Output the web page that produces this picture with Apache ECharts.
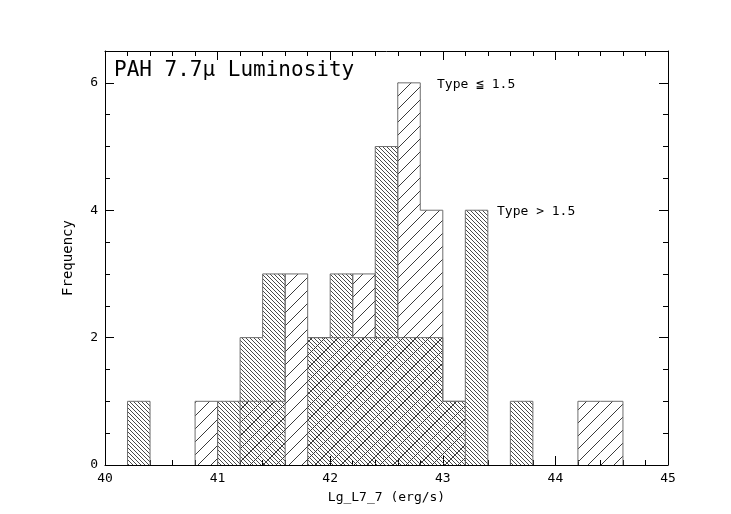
<!DOCTYPE html>
<html>
<head>
<meta charset="utf-8">
<script src="https://cdn.jsdelivr.net/npm/echarts@6/dist/echarts.min.js"></script>
<style>html,body{margin:0;padding:0;background:#fff;}#c{width:731px;height:514px;}</style>
</head>
<body>
<div id="c"></div>
<script>
// ---- data ----
const binLeft = [40.2,40.4,40.6,40.8,41.0,41.2,41.4,41.6,41.8,42.0,42.2,42.4,42.6,42.8,43.0,43.2,43.4,43.6,43.8,44.0,44.2,44.4];
const binWidth = 0.2;
const typeLow  = [0,0,0,1,0,1,1,3,2,2,3,2,6,4,1,0,0,0,0,0,1,1]; // Type <= 1.5
const typeHigh = [1,0,0,0,1,2,3,0,2,3,2,5,2,2,1,4,0,1,0,0,0,0]; // Type > 1.5
const xTicks = [40,41,42,43,44,45];
const yTicks = [0,2,4,6];
const titleText = 'PAH 7.7\u03BC Luminosity';
const labelLow = 'Type \u2266 1.5';
const labelHigh = 'Type > 1.5';

const FONT = '"DejaVu Sans Mono", monospace';

function hatch(tile, spacing, dir, color, lw) {
  const c = document.createElement('canvas');
  c.width = c.height = tile;
  const g = c.getContext('2d');
  g.strokeStyle = color; g.lineWidth = lw;
  g.beginPath();
  for (let k = -tile; k <= 2 * tile; k += spacing) {
    if (dir === 'slash') { g.moveTo(k, tile); g.lineTo(k + tile, 0); }
    else { g.moveTo(k, 0); g.lineTo(k + tile, tile); }
  }
  g.stroke();
  return c;
}
const patLow = hatch(13, 13, 'slash', '#3a3a3a', 1);
const patHigh = hatch(8, 4, 'back', '#4a4a4a', 1);

function buildData(vals) {
  return binLeft.map((x, i) => [x, vals[i], i > 0 ? vals[i - 1] : 0, i < vals.length - 1 ? vals[i + 1] : 0]);
}

function makeRender(pattern) {
  return function (params, api) {
    const x0 = api.value(0), h = api.value(1), hp = api.value(2), hn = api.value(3);
    if (!h) return null;
    const pa = api.coord([x0, 0]), pb = api.coord([x0 + binWidth, h]);
    const pPrev = api.coord([x0, hp]), pNext = api.coord([x0 + binWidth, hn]);
    const children = [{
      type: 'rect',
      shape: { x: pa[0], y: pb[1], width: pb[0] - pa[0], height: pa[1] - pb[1] },
      style: { fill: { image: pattern, repeat: 'repeat' }, stroke: null }
    }];
    const ls = { stroke: '#6e6e6e', lineWidth: 1 };
    children.push({ type: 'line', shape: { x1: pa[0], y1: pb[1], x2: pb[0], y2: pb[1] }, style: ls });
    if (h > hp) children.push({ type: 'line', shape: { x1: pa[0], y1: pPrev[1], x2: pa[0], y2: pb[1] }, style: ls });
    if (h > hn) children.push({ type: 'line', shape: { x1: pb[0], y1: pNext[1], x2: pb[0], y2: pb[1] }, style: ls });
    return { type: 'group', children: children };
  };
}

const axisCommon = {
  axisLine: { show: true, onZero: false, lineStyle: { color: '#000', width: 1 } },
  axisTick: { show: true, inside: true, length: 9, lineStyle: { color: '#000' } },
  minorTick: { show: true, length: 5, lineStyle: { color: '#000' } },
  splitLine: { show: false },
  minorSplitLine: { show: false }
};

const chart = echarts.init(document.getElementById('c'), null, { renderer: 'canvas' });
chart.setOption({
  backgroundColor: '#fff',
  animation: false,
  grid: { left: 105, right: 63, top: 51, bottom: 49, containLabel: false },
  xAxis: [
    Object.assign({}, axisCommon, {
      type: 'value', min: xTicks[0], max: xTicks[xTicks.length - 1], interval: 1, position: 'bottom',
      minorTick: Object.assign({}, axisCommon.minorTick, { splitNumber: 5 }),
      axisLabel: { color: '#000', fontFamily: FONT, fontSize: 13, margin: 7 },
      name: 'Lg_L7_7 (erg/s)', nameLocation: 'middle', nameGap: 26,
      nameTextStyle: { color: '#000', fontFamily: FONT, fontSize: 13 }
    }),
    Object.assign({}, axisCommon, {
      type: 'value', min: xTicks[0], max: xTicks[xTicks.length - 1], interval: 1, position: 'top',
      minorTick: Object.assign({}, axisCommon.minorTick, { splitNumber: 5 }),
      axisLabel: { show: false }
    })
  ],
  yAxis: [
    Object.assign({}, axisCommon, {
      type: 'value', min: 0, max: 6.5, interval: 2, position: 'left',
      minorTick: Object.assign({}, axisCommon.minorTick, { splitNumber: 4 }),
      axisLabel: { color: '#000', fontFamily: FONT, fontSize: 13, margin: 7, showMaxLabel: false },
      name: 'Frequency', nameLocation: 'middle', nameGap: 30,
      nameTextStyle: { color: '#000', fontFamily: FONT, fontSize: 14 }
    }),
    Object.assign({}, axisCommon, {
      type: 'value', min: 0, max: 6.5, interval: 2, position: 'right',
      minorTick: Object.assign({}, axisCommon.minorTick, { splitNumber: 4 }),
      axisLabel: { show: false }
    })
  ],
  series: [
    { type: 'custom', name: 'Type > 1.5', xAxisIndex: 0, yAxisIndex: 0, clip: true,
      renderItem: makeRender(patHigh), data: buildData(typeHigh), z: 2 },
    { type: 'custom', name: 'Type <= 1.5', xAxisIndex: 0, yAxisIndex: 0, clip: true,
      renderItem: makeRender(patLow), data: buildData(typeLow), z: 3 }
  ],
  graphic: [
    { type: 'text', left: 114, top: 60, style: { text: titleText, fill: '#000', font: '21px ' + FONT } },
    { type: 'text', left: 437, top: 78, style: { text: labelLow, fill: '#000', font: '13px ' + FONT } },
    { type: 'text', left: 497, top: 205, style: { text: labelHigh, fill: '#000', font: '13px ' + FONT } }
  ]
});
</script>
</body>
</html>
